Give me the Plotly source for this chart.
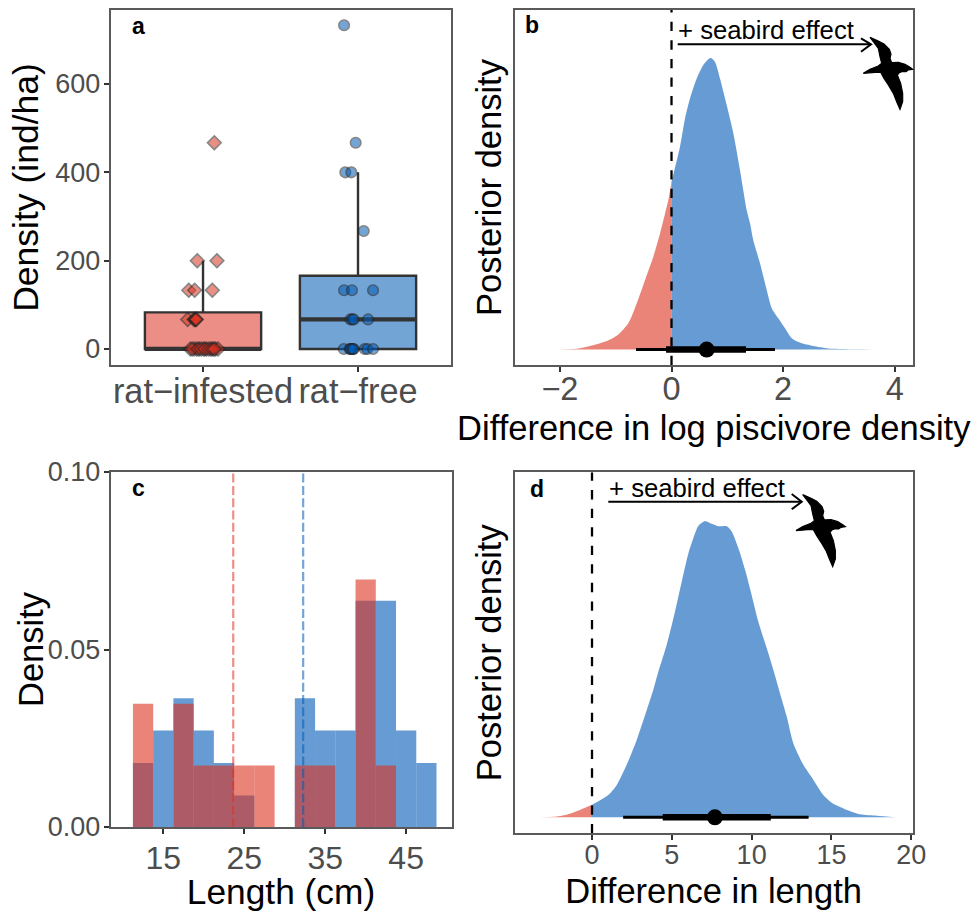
import numpy as np
import plotly.graph_objects as go

W, H = 974, 911
RED = "#DC3220"
BLUE = "#005AB5"
RED_A = "rgba(220,50,32,0.6)"
BLUE_A = "rgba(0,90,181,0.6)"
RED_BOX = "rgba(220,50,32,0.55)"
BLUE_BOX = "rgba(0,90,181,0.55)"
INK = "#333333"
TICK = "#4D4D4D"
BORDER = "#5A5A5A"
FONT = "Liberation Sans"

# Panel a: island density
groups = ["rat\u2212infested", "rat\u2212free"]
box_q1 = [0, 0]
box_median = [0, 67]
box_q3 = [83, 166]
box_upper = [200, 400]
red_x = [1.073, 0.963, 1.09, 0.908, 0.946, 1.06, 0.901, 0.942, 0.948, 0.953, 0.957,
         0.918, 0.942, 0.957, 0.978, 1.004, 1.022, 1.047, 1.065, 1.082, 1.097,
         0.93, 0.968, 0.99, 1.012, 1.035, 1.056, 1.072]
red_y = [467, 200, 200, 133, 133, 133, 67, 67, 67, 67, 67,
         0, 0, 0, 0, 0, 0, 0, 0, 0, 0,
         0, 0, 0, 0, 0, 0, 0]
blue_x = [1.910, 1.985, 1.918, 1.957, 2.037, 1.910, 1.961, 2.097, 1.951, 1.963, 1.972, 2.065,
          1.908, 1.946, 1.957, 1.963, 1.972, 2.043, 2.06, 2.097, 1.952, 1.968]
blue_y = [733, 467, 400, 400, 267, 133, 133, 133, 67, 67, 67, 67,
          0, 0, 0, 0, 0, 0, 0, 0, 0, 0]

# Panel b: posterior of difference in log piscivore density
b_x = [-2.48, -1.70, -1.46, -1.13, -0.953, -0.774, -0.624, -0.475, -0.326, -0.206, -0.116, -0.057, 0,
       0.152, 0.242, 0.332, 0.452, 0.57, 0.66, 0.708, 0.78, 0.869, 0.989, 1.108, 1.228, 1.348, 1.407,
       1.466, 1.586, 1.706, 1.796, 1.914, 2.034, 2.154, 2.30, 2.54, 2.81, 3.4, 4.02]
b_y = [0, 0.003, 0.012, 0.032, 0.052, 0.09, 0.158, 0.238, 0.318, 0.398, 0.467, 0.513, 0.576,
       0.696, 0.793, 0.862, 0.93, 0.976, 0.996, 1.0, 0.987, 0.93, 0.839, 0.742, 0.615, 0.478, 0.433,
       0.375, 0.296, 0.204, 0.142, 0.107, 0.073, 0.039, 0.024, 0.012, 0.004, 0.001, 0]
b_interval = [-0.637, -0.098, 0.63, 1.335, 1.855]

# Panel c: length histograms
bin_centers = [12.5, 15, 17.5, 20, 22.5, 25, 27.5, 30, 32.5, 35, 37.5, 40, 42.5, 45, 47.5]
free_hist = [0.018, 0.0272, 0.0363, 0.0272, 0.018, 0.0089, 0, 0, 0.0363, 0.0272, 0.0272, 0.0637, 0.0637, 0.0272, 0.018]
infested_hist = [0.0347, 0, 0.0347, 0.0173, 0.0173, 0.0173, 0.0173, 0, 0.0173, 0.0173, 0, 0.0697, 0.0173, 0, 0]
infested_mean = 23.64
free_mean = 32.28

# Panel d: posterior of difference in length
d_x = [-3.72, -2.42, -1.59, -0.75, 0, 1.02, 1.55, 2.17, 2.80, 3.43, 3.84, 4.15, 4.68, 5.2, 5.62, 6.04, 6.35, 6.66,
       7.08, 7.5, 7.91, 8.44, 8.75, 9.17, 9.59, 10.0, 10.42, 10.95, 11.4, 11.78, 12.2, 12.61, 13.24, 13.87,
       14.49, 15.02, 15.75, 16.79, 17.84, 19.0]
d_y = [0, 0.002, 0.009, 0.025, 0.042, 0.075, 0.109, 0.177, 0.261, 0.362, 0.43, 0.49, 0.582, 0.694, 0.795, 0.891, 0.942, 0.983,
       1.0, 0.99, 0.982, 0.982, 0.964, 0.908, 0.835, 0.75, 0.66, 0.57, 0.49, 0.418, 0.34, 0.25, 0.177, 0.126,
       0.075, 0.049, 0.03, 0.01, 0.005, 0]
d_interval = [1.95, 4.43, 7.7, 11.2, 13.57]

# Seabird silhouette outline (pixels relative to its box)
bird_x = [30, 55, 72, 88, 93, 90, 95, 115, 135, 150, 158, 145, 138, 125, 118, 112, 122, 128, 128, 120,
          110, 100, 85, 72, 62, 45, 10, 30, 55, 65, 60, 55, 40]
bird_y = [22, 33, 42, 58, 72, 85, 98, 97, 103, 112, 118, 120, 125, 125, 128, 135, 160, 190, 215, 238,
          215, 190, 165, 145, 127, 127, 130, 118, 108, 100, 80, 55, 35]


def px(x):
    return x / W


def py(y):
    return 1 - y / H


def poly(points, close=False):
    s = "M " + " L ".join(f"{px(x):.5f} {py(y):.5f}" for x, y in points)
    return s + (" Z" if close else "")


def bird(ox, oy):
    return poly([(ox + x / 3, oy + y / 3) for x, y in zip(bird_x, bird_y)], close=True)


fig = go.Figure()

# ---------- a
for i, colA in enumerate([RED_BOX, BLUE_BOX]):
    fig.add_trace(go.Box(x=[i + 1], q1=[box_q1[i]], median=[box_median[i]], q3=[box_q3[i]],
                         lowerfence=[box_q1[i]], upperfence=[box_upper[i]], width=0.75, whiskerwidth=0,
                         fillcolor=colA, line=dict(color=INK, width=2.4), boxpoints=False,
                         xaxis="x", yaxis="y"))
    fig.add_trace(go.Scatter(x=[i + 1 - 0.375, i + 1 + 0.375], y=[box_median[i]] * 2, mode="lines",
                             line=dict(color=INK, width=4.2), xaxis="x", yaxis="y"))
fig.add_trace(go.Scatter(x=red_x, y=red_y, mode="markers", xaxis="x", yaxis="y",
                         marker=dict(symbol="diamond", size=10.5, color=RED, opacity=0.55,
                                     line=dict(color="#222222", width=1.6))))
fig.add_trace(go.Scatter(x=blue_x, y=blue_y, mode="markers", xaxis="x", yaxis="y",
                         marker=dict(symbol="circle", size=10.5, color=BLUE, opacity=0.55,
                                     line=dict(color="#222222", width=1.6))))


# ---------- b / d densities
def density(xs, ys, interval, xa, ya, top, bottom):
    xs, ys = np.array(xs), np.array(ys)
    neg, pos = xs <= 0, xs >= 0
    smooth = dict(width=0, shape="spline", smoothing=0.7)
    fig.add_trace(go.Scatter(x=xs[neg], y=ys[neg], mode="lines", fill="tozeroy", fillcolor=RED_A,
                             line=smooth, xaxis=xa, yaxis=ya))
    fig.add_trace(go.Scatter(x=xs[pos], y=ys[pos], mode="lines", fill="tozeroy", fillcolor=BLUE_A,
                             line=smooth, xaxis=xa, yaxis=ya))
    fig.add_trace(go.Scatter(x=[0, 0], y=[bottom, top], mode="lines", xaxis=xa, yaxis=ya,
                             line=dict(color="black", width=2.3, dash="9.3px,9.25px")))
    fig.add_trace(go.Scatter(x=[interval[0], interval[4]], y=[0, 0], mode="lines", xaxis=xa, yaxis=ya,
                             line=dict(color="black", width=3)))
    fig.add_trace(go.Scatter(x=[interval[1], interval[3]], y=[0, 0], mode="lines", xaxis=xa, yaxis=ya,
                             line=dict(color="black", width=6.5)))
    fig.add_trace(go.Scatter(x=[interval[2]], y=[0], mode="markers", xaxis=xa, yaxis=ya,
                             marker=dict(color="black", size=16)))


density(b_x, b_y, b_interval, "x2", "y2", 1.165, -0.053)
density(d_x, d_y, d_interval, "x4", "y4", 1.164, -0.054)

# ---------- c
fig.add_trace(go.Bar(x=bin_centers, y=free_hist, width=2.5, marker=dict(color=BLUE_A, line=dict(width=0)),
                     xaxis="x3", yaxis="y3"))
fig.add_trace(go.Bar(x=bin_centers, y=infested_hist, width=2.5, marker=dict(color=RED_A, line=dict(width=0)),
                     xaxis="x3", yaxis="y3"))
for m, c in [(infested_mean, "rgba(220,50,32,0.55)"), (free_mean, "rgba(0,90,181,0.55)")]:
    fig.add_trace(go.Scatter(x=[m, m], y=[0, 0.1], mode="lines", xaxis="x3", yaxis="y3",
                             line=dict(color=c, width=2.2, dash="9px,3.3px")))


def axis(domain, rng, anchor, **kw):
    a = dict(domain=domain, range=rng, anchor=anchor, showgrid=False, zeroline=False, showline=True,
             mirror=True, linecolor=BORDER, linewidth=1.5, ticks="outside", ticklen=5, tickwidth=1.5,
             tickcolor=INK, automargin=False, tickfont=dict(family=FONT, size=27, color=TICK))
    a.update(kw)
    return a


def title(text, standoff, size=34.5):
    return dict(text=text, font=dict(family=FONT, size=size, color="black"), standoff=standoff)


def xd(l, r):
    return [l / W, r / W]


def yd(t, b):
    return [1 - b / H, 1 - t / H]


layout = dict(
    template="none",
    width=W, height=H, margin=dict(l=0, r=0, t=0, b=0), paper_bgcolor="white", plot_bgcolor="white",
    showlegend=False, barmode="overlay", hovermode=False,
    font=dict(family=FONT),
    xaxis=axis(xd(110.5, 451), [0.403, 2.6], "y", tickmode="array", tickvals=[1, 2], ticktext=groups,
               tickfont=dict(family=FONT, size=34.3, color=TICK), ticklabelstandoff=-10),
    yaxis=axis(yd(10, 365), [-36.2, 767.5], "x", tickmode="array", tickvals=[0, 200, 400, 600],
               ticklabelstandoff=-2, title=title("Density (ind/ha)", 6, 35.5)),
    xaxis2=axis(xd(514.5, 913), [-2.814, 4.328], "y2", tickmode="array", tickvals=[-2, 0, 2, 4],
                ticktext=["\u22122", "0", "2", "4"], tickfont=dict(family=FONT, size=32.5, color=TICK),
                ticklabelstandoff=-11, title=title("Difference in log piscivore density", 10)),
    yaxis2=axis(yd(10, 365), [-0.053, 1.165], "x2", ticks="", showticklabels=False,
                title=title("Posterior density", 1)),
    xaxis3=axis(xd(110.5, 451.5), [8.48, 50.6], "y3", tickmode="array", tickvals=[15, 25, 35, 45],
                tickfont=dict(family=FONT, size=32, color=TICK), ticklabelstandoff=-3,
                title=title("Length (cm)", 9, 35.3)),
    yaxis3=axis(yd(472, 827), [0, 0.1], "x3", tickmode="array", tickvals=[0, 0.05, 0.1],
                ticktext=["0.00", "0.05", "0.10"], ticklabelstandoff=-2),
    xaxis4=axis(xd(514.5, 912.7), [-4.856, 20.09], "y4", tickmode="array", tickvals=[0, 5, 10, 15, 20],
                ticklabelstandoff=-8, title=title("Difference in length", 9)),
    yaxis4=axis(yd(472.3, 833.3), [-0.054, 1.164], "x4", ticks="", showticklabels=False,
                title=title("Posterior density", 1)),
)

shapes = []
for tip, y, x0, h0, up, dn, ox, oy in [(871, 44.3, 677.7, 861, 38.3, 51.7, 860, 30),
                                       (801.7, 501.7, 608.3, 791.7, 494, 509.3, 792.7, 487.3)]:
    shapes.append(dict(type="path", path=poly([(x0, y), (tip, y)]), xref="paper", yref="paper",
                       line=dict(color="black", width=2)))
    shapes.append(dict(type="path", path=poly([(h0, up), (tip, y), (h0, dn)]), xref="paper", yref="paper",
                       line=dict(color="black", width=2)))
    shapes.append(dict(type="path", path=bird(ox, oy), xref="paper", yref="paper",
                       fillcolor="black", line=dict(color="black", width=1.2)))
layout["shapes"] = shapes

ann = []
for letter, x, y in [("a", 138, 26), ("b", 532, 25), ("c", 138, 488), ("d", 537, 489)]:
    ann.append(dict(text=f"<b>{letter}</b>", x=px(x), y=py(y), xref="paper", yref="paper", showarrow=False,
                    xanchor="center", yanchor="middle", font=dict(family=FONT, size=23, color="black")))
for x, y in [(766.3, 30), (697.3, 488)]:
    ann.append(dict(text="+ seabird effect", x=px(x), y=py(y), xref="paper", yref="paper", showarrow=False,
                    xanchor="center", yanchor="middle", font=dict(family=FONT, size=25.7, color="black")))
ann.append(dict(text="Density", x=px(31), y=py(649), xref="paper", yref="paper", showarrow=False, textangle=-90,
                xanchor="center", yanchor="middle", font=dict(family=FONT, size=34.5, color="black")))
layout["annotations"] = ann

fig.update_layout(**layout)
fig.write_html("out.html", config={"displayModeBar": False},
               post_script="document.body.style.margin='0';document.body.style.overflow='hidden';")
